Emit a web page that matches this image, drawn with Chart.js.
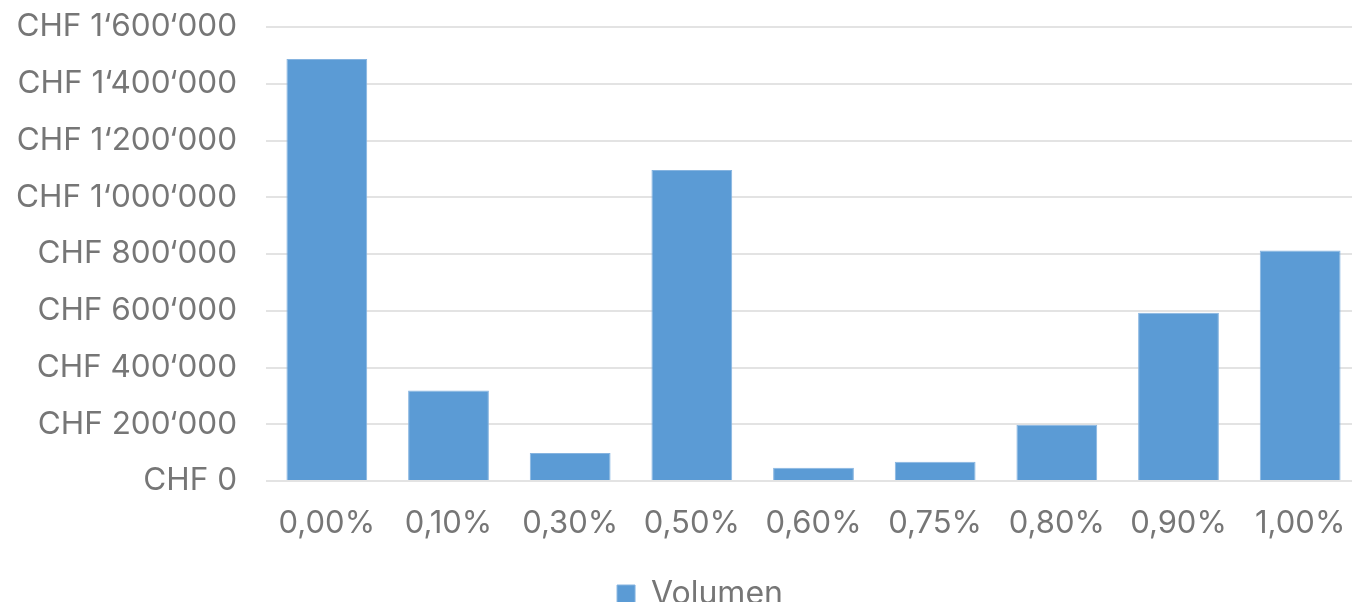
<!DOCTYPE html>
<html>
<head>
<meta charset="utf-8">
<script src="https://cdn.jsdelivr.net/npm/chart.js@4"></script>
<style>
html,body{margin:0;padding:0;background:#fff;overflow:hidden;width:1352px;height:602px;}
#wrap{position:absolute;left:0;top:0;width:1400px;height:620px;}
</style>
</head>
<body>
<div id="wrap"><canvas id="c" width="1400" height="620"></canvas></div>
<script>
const categories = ["0,00%","0,10%","0,30%","0,50%","0,60%","0,75%","0,80%","0,90%","1,00%"];
const volumen = [1487000, 319000, 99000, 1096000, 47000, 68000, 198000, 593000, 812000];
const yTicks = [0, 200000, 400000, 600000, 800000, 1000000, 1200000, 1400000, 1600000];
const seriesName = "Volumen";

function fmtCHF(v){
  const s = Math.round(v).toString().replace(/\B(?=(\d{3})+(?!\d))/g, "\u2018");
  return "CHF " + s;
}

const FONT = "Inter, 'Noto Sans', sans-serif";
const GRAY = "#767676";

const legendShift = {
  id: 'legendShift',
  afterLayout(chart) {
    const lg = chart.legend;
    if (lg) { lg.left += 12; lg.right += 12; }
  }
};

new Chart(document.getElementById('c'), {
  type: 'bar',
  data: {
    labels: categories,
    datasets: [{
      label: seriesName,
      data: volumen,
      backgroundColor: '#5b9bd5',
      borderColor: '#86b4e0',
      borderWidth: 1,
      categoryPercentage: 1,
      barPercentage: 0.664
    }]
  },
  plugins: [legendShift],
  options: {
    responsive: false,
    animation: false,
    layout: { padding: { left: 15, top: 27, right: 39, bottom: 0 } },
    plugins: {
      legend: {
        position: 'bottom',
        labels: {
          boxWidth: 18, boxHeight: 18, padding: 10,
          color: GRAY,
          font: { family: FONT, size: 32 }
        }
      },
      tooltip: { enabled: false }
    },
    scales: {
      x: {
        grid: { display: false, drawTicks: false },
        border: { display: false },
        ticks: { color: GRAY, font: { family: FONT, size: 31 }, padding: 24, maxRotation: 0 },
        afterFit: (s) => { s.height = 87; s.paddingLeft = 0; s.paddingRight = 0; }
      },
      y: {
        min: 0, max: 1600000,
        afterBuildTicks: (s) => { s.ticks = yTicks.map(v => ({ value: v })); },
        grid: { color: '#e3e3e3', lineWidth: 2, drawTicks: false },
        border: { display: false },
        ticks: { color: GRAY, font: { family: FONT, size: 31.5 }, padding: 29, callback: (v) => fmtCHF(v) },
        afterFit: (s) => { s.width = 251; s.paddingTop = 0; s.paddingBottom = 0; }
      }
    }
  }
});
</script>
</body>
</html>
